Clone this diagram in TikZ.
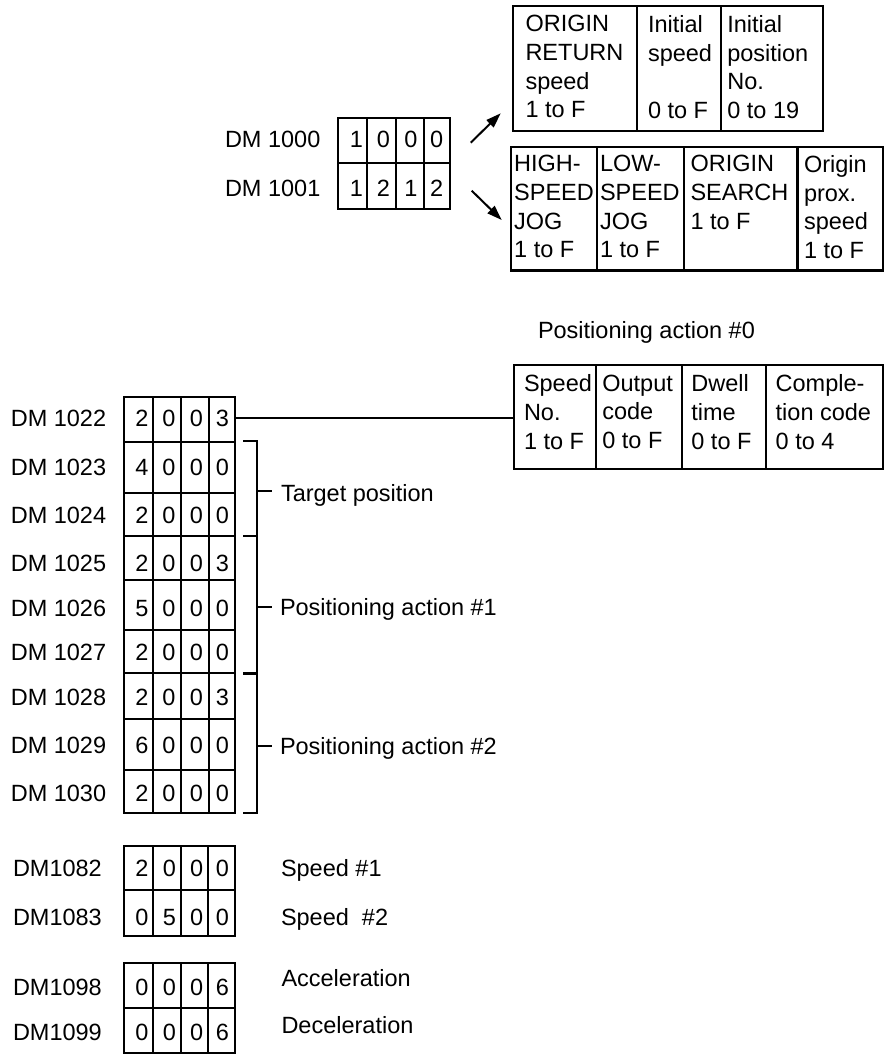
\documentclass[tikz,border=0pt]{standalone}
\usepackage{fontspec}
\setmainfont{Liberation Sans}
\usetikzlibrary{arrows.meta}
\begin{document}
\begin{tikzpicture}[x=1pt,y=-1pt,
  every node/.style={inner sep=0pt, outer sep=0pt, font=\fontsize{23.5}{28.7}\selectfont},
  boxline/.style={line width=2.2pt},
  conn/.style={line width=2pt},
  bracketline/.style={line width=2pt},
  panel/.style={draw, boxline, anchor=north west},
  celltext/.style={anchor=north west, align=left},
  lab/.style={anchor=base west},
  dig/.style={anchor=base},
  tip/.style={conn, -{Triangle[length=15pt,width=10pt]}}]
\useasboundingbox (0,0) rectangle (885,1057);

% ---------- DM 1000 / 1001 ----------
\node[lab] (l1000) at (225,147.7) {DM 1000};
\node[lab] (l1001) at (225,196.1) {DM 1001};
\draw[boxline] (338.3,118.3) rectangle (450,209);
\draw[boxline] (338.3,162.7) -- (450,162.7);
\foreach \x in {367.3,395.7,424} \draw[boxline] (\x,118.3) -- (\x,209);
\foreach \b/\p/\q/\r/\s [count=\i] in {147.7/1/0/0/0, 196.1/1/2/1/2}{
  \node[dig] (ta\i) at (356.3,\b) {\p};
  \node[dig] (tb\i) at (383.3,\b) {\q};
  \node[dig] (tc\i) at (410.8,\b) {\r};
  \node[dig] (td\i) at (436.6,\b) {\s};
}
\coordinate (upS) at (470.7,142.7);
\coordinate (upE) at (500.7,113.3);
\coordinate (dnS) at (471.7,190.7);
\coordinate (dnE) at (501.7,220);
\draw[tip] (upS) -- (upE);
\draw[tip] (dnS) -- (dnE);

% ---------- top panel ----------
\node[panel, minimum width=309.4pt, minimum height=125pt] (orig) at (513.3,6) {};
\draw[boxline] (636.7,6) -- (636.7,131);
\draw[boxline] (720.7,6) -- (720.7,131);
\node[celltext] (o1) at (525.5,15.4) {ORIGIN\\RETURN\\speed\\1 to F};
\node[celltext] (o2) at (648,15.4) {Initial\\speed\\\mbox{}\\0 to F};
\node[celltext] (o3) at (727.3,15.4) {Initial\\position\\No.\\0 to 19};

% ---------- second panel ----------
\node[panel, minimum width=372pt, minimum height=123.5pt] (jog) at (511,147) {};
\draw[boxline] (597,147) -- (597,270.5);
\draw[boxline] (684.3,147) -- (684.3,270.5);
\draw[boxline] (797.5,147) -- (797.5,270.5);
\node[celltext] (j1) at (514.2,155.4) {HIGH-\\SPEED\\JOG\\1 to F};
\node[celltext] (j2) at (600,155.4) {LOW-\\SPEED\\JOG\\1 to F};
\node[celltext] (j3) at (690.5,155.4) {ORIGIN\\SEARCH\\1 to F};
\node[celltext] (j4) at (804,155.4) {Origin\\prox.\\speed\\1 to F};

% ---------- positioning action #0 ----------
\node[lab] (pa0t) at (538,338.4) {Positioning action \#0};
\node[panel, minimum width=368.7pt, minimum height=104.3pt] (pa0) at (514.3,365) {};
\draw[boxline] (595.7,365) -- (595.7,469.3);
\draw[boxline] (682.3,365) -- (682.3,469.3);
\draw[boxline] (766,365) -- (766,469.3);
\node[celltext] (p1) at (524,374.7) {Speed\\No.\\1 to F};
\node[celltext] (p2) at (602.3,374.7) {Output\\code\\0 to F};
\node[celltext] (p3) at (691.4,374.7) {Dwell\\time\\0 to F};
\node[celltext] (p4) at (775.7,374.7) {Comple-\\tion code\\0 to 4};

% ---------- DM 1022 .. 1030 ----------
\draw[boxline] (124,397.3) rectangle (235,812.7);
\foreach \y in {441.7,493.3,535.7,580,630,673.3,719,770} \draw[boxline] (124,\y) -- (235,\y);
\foreach \x in {152.7,180.7,209} \draw[boxline] (\x,397.3) -- (\x,812.7);
\foreach \b/\n/\p/\q/\r/\s [count=\i] in {
  426.7/1022/2/0/0/3, 475.7/1023/4/0/0/0, 523.4/1024/2/0/0/0,
  571.1/1025/2/0/0/3, 616.1/1026/5/0/0/0, 660.7/1027/2/0/0/0,
  705.1/1028/2/0/0/3, 753.4/1029/6/0/0/0, 801.1/1030/2/0/0/0}{
  \node[lab] (m\i) at (10.8,\b) {DM \n};
  \node[dig] (ma\i) at (142,\b) {\p};
  \node[dig] (mb\i) at (169,\b) {\q};
  \node[dig] (mc\i) at (196.5,\b) {\r};
  \node[dig] (md\i) at (222.3,\b) {\s};
}
\coordinate (r1022) at (235,418.3);
\draw[conn] (r1022) -- (r1022 -| pa0.west);

% brackets
\draw[bracketline] (243.3,441) -- (257.3,441) -- (257.3,535.7) -- (243.3,535.7);
\draw[bracketline] (257.3,491) -- (272,491);
\draw[bracketline] (243.3,535.7) -- (257.3,535.7) -- (257.3,673.3) -- (243.3,673.3);
\draw[bracketline] (257.3,607) -- (272,607);
\draw[bracketline] (243.3,674) -- (257.3,674) -- (257.3,812.7) -- (243.3,812.7);
\draw[bracketline] (257.3,746) -- (272,746);
\node[lab] (tgt) at (281,501.7) {Target position};
\node[lab] (pa1) at (280,615.4) {Positioning action \#1};
\node[lab] (pa2) at (280,754.4) {Positioning action \#2};

% ---------- speeds / accel ----------
\draw[boxline] (124,846) rectangle (235,936);
\draw[boxline] (124,890) -- (235,890);
\draw[boxline] (124,963) rectangle (235,1053);
\draw[boxline] (124,1008) -- (235,1008);
\foreach \x in {152.7,181,208.3} {
  \draw[boxline] (\x,846) -- (\x,936);
  \draw[boxline] (\x,963) -- (\x,1053);
}
\foreach \b/\n/\p/\q/\r/\s [count=\i] in {
  876.4/1082/2/0/0/0, 925.4/1083/0/5/0/0, 995.4/1098/0/0/0/6, 1040.4/1099/0/0/0/6}{
  \node[lab] (s\i) at (13,\b) {DM\n};
  \node[dig] (sa\i) at (142,\b) {\p};
  \node[dig] (sb\i) at (169.3,\b) {\q};
  \node[dig] (sc\i) at (196.7,\b) {\r};
  \node[dig] (sd\i) at (222.5,\b) {\s};
}
\node[lab] (sp1) at (281,876.4) {Speed \#1};
\node[lab] (sp2) at (281,925.4) {Speed\ \ \#2};
\node[lab] (acc) at (281.5,986.4) {Acceleration};
\node[lab] (dec) at (281.5,1033.4) {Deceleration};
\end{tikzpicture}
\end{document}
